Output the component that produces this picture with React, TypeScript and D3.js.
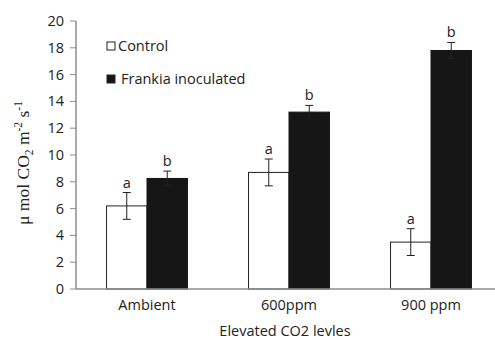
import * as d3 from "d3";

const categories = ["Ambient", "600ppm", "900 ppm"];
const seriesNames = ["Control", "Frankia inoculated"];
const controlValues = [6.2, 8.7, 3.5];
const controlErrors = [1.0, 1.0, 1.0];
const frankiaValues = [8.25, 13.2, 17.8];
const frankiaErrors = [0.55, 0.5, 0.6];
const controlLetters = ["a", "a", "a"];
const frankiaLetters = ["b", "b", "b"];
const yTicks = [0, 2, 4, 6, 8, 10, 12, 14, 16, 18, 20];

const width = 495;
const height = 340;
const margin = { top: 21, right: -7, bottom: 51, left: 76 };

export default function App() {
  const innerWidth = width - margin.left - margin.right;
  const innerHeight = height - margin.top - margin.bottom;

  const x = d3.scaleBand().domain(categories).range([0, innerWidth]).paddingInner(0).paddingOuter(0);
  const inner = d3
    .scaleBand()
    .domain(seriesNames)
    .range([x.bandwidth() * 0.215, x.bandwidth() * 0.785]);
  const y = d3.scaleLinear().domain([0, 20]).range([innerHeight, 0]);

  const series = [
    { name: seriesNames[0], values: controlValues, errors: controlErrors, letters: controlLetters, fill: "#ffffff" },
    { name: seriesNames[1], values: frankiaValues, errors: frankiaErrors, letters: frankiaLetters, fill: "#161616" },
  ];

  const sans = "'Open Sans', 'Liberation Sans', sans-serif";
  const fs = 14.5;
  const axisColor = "#8c8c8c";

  return (
    <svg
      width={width}
      height={height}
      style={{ position: "absolute", left: 0, top: 0, background: "#fff" }}
    >
      <g transform={`translate(${margin.left}, ${margin.top})`}>
        {/* bars */}
        {categories.map((cat, i) => (
          <g key={cat} transform={`translate(${x(cat) || 0}, 0)`}>
            {series.map((s) => {
              const bx = inner(s.name) || 0;
              const bw = inner.bandwidth();
              const cx = bx + bw / 2;
              const v = s.values[i];
              const e = s.errors[i];
              return (
                <g key={s.name}>
                  <rect
                    x={bx}
                    y={y(v)}
                    width={bw}
                    height={y(0) - y(v)}
                    fill={s.fill}
                    stroke={s.fill === "#ffffff" ? "#222" : "#161616"}
                    strokeWidth={1}
                  />
                  <line x1={cx} x2={cx} y1={y(v + e)} y2={y(v - e)} stroke="#222" strokeWidth={1} />
                  <line x1={cx - 4} x2={cx + 4} y1={y(v + e)} y2={y(v + e)} stroke="#222" strokeWidth={1} />
                  <line x1={cx - 4} x2={cx + 4} y1={y(v - e)} y2={y(v - e)} stroke="#222" strokeWidth={1} />
                  <text
                    x={cx}
                    y={y(v + e) - 5}
                    textAnchor="middle"
                    fontSize={fs}
                    fontFamily={sans}
                    fill="#222"
                  >
                    {s.letters[i]}
                  </text>
                </g>
              );
            })}
          </g>
        ))}

        {/* y axis */}
        <line x1={0} x2={0} y1={y(20)} y2={y(0)} stroke={axisColor} strokeWidth={1.5} />
        {yTicks.map((t) => (
          <g key={t} transform={`translate(0, ${y(t)})`}>
            <line x1={-6} x2={0} stroke={axisColor} strokeWidth={1} />
            <text
              x={-12}
              dy="0.35em"
              textAnchor="end"
              fontSize={fs}
              fontFamily={sans}
              fill="#222"
            >
              {t}
            </text>
          </g>
        ))}

        {/* x axis */}
        <line x1={0} x2={width - margin.left} y1={y(0)} y2={y(0)} stroke={axisColor} strokeWidth={1.5} />
        {categories.map((cat) => (
          <text
            key={cat}
            x={(x(cat) || 0) + x.bandwidth() / 2}
            y={y(0) + 21}
            textAnchor="middle"
            fontSize={fs}
            fontFamily={sans}
            fill="#222"
          >
            {cat}
          </text>
        ))}
      </g>

      {/* x title */}
      <text x={285} y={336} textAnchor="middle" fontSize={fs} fontFamily={sans} fill="#222">
        Elevated CO2 levles
      </text>

      {/* y title */}
      <text
        transform="translate(29, 163) rotate(-90)"
        textAnchor="middle"
        fontSize={17.5}
        fontFamily="'Liberation Serif', 'DejaVu Serif', serif"
        fill="#222"
      >
        μ mol CO
        <tspan fontSize={11.5} dy={4}>2</tspan>
        <tspan dy={-4}> m</tspan>
        <tspan fontSize={11.5} dy={-7}>-2</tspan>
        <tspan dy={7}> s</tspan>
        <tspan fontSize={11.5} dy={-7}>-1</tspan>
      </text>

      {/* legend */}
      {series.map((s, i) => (
        <g key={s.name} transform={`translate(107, ${42 + i * 33})`}>
          <rect x={0} y={0} width={8} height={8} fill={s.fill} stroke="#222" strokeWidth={1} />
          <text x={i === 0 ? 11 : 14} y={9} fontSize={fs} fontFamily={sans} fill="#222">
            {s.name}
          </text>
        </g>
      ))}
    </svg>
  );
}
